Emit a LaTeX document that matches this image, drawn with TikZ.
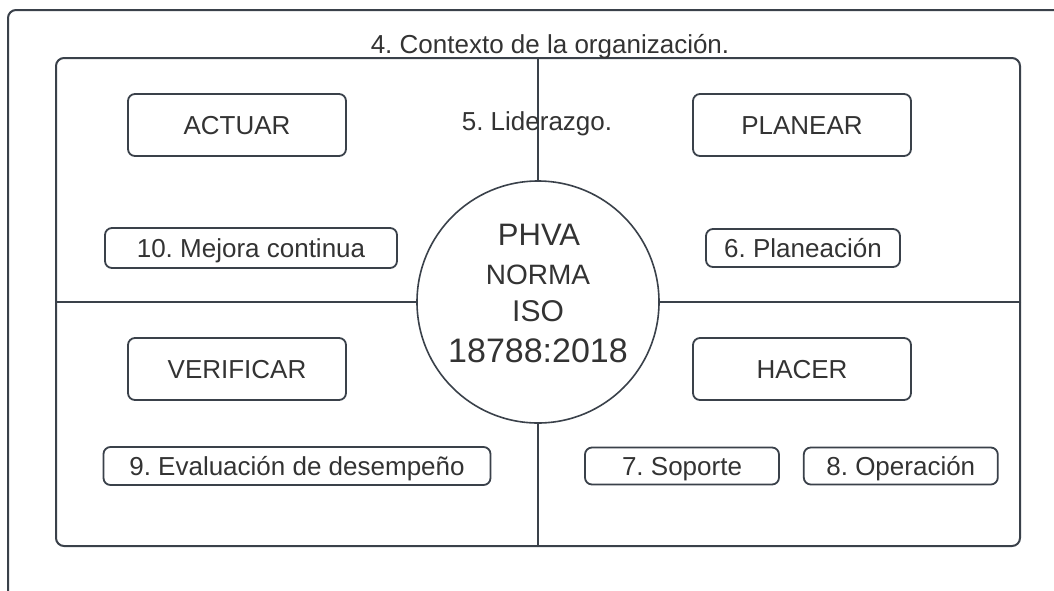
\documentclass[tikz,border=0pt]{standalone}
\usepackage{fontspec}
\setmainfont{Liberation Sans}
\usetikzlibrary{positioning}
\definecolor{linea}{RGB}{58,65,74}
\definecolor{texto}{RGB}{51,51,51}
\frenchspacing
\tikzset{
x=1pt, y=-1pt, % one unit is one pixel of the page, y runs downwards
every node/.style={text=texto, inner sep=0pt},
caja/.style={draw=linea, line width=1.8pt, rounded corners=7pt,
  text height=18.6pt, text depth=0pt, font=\fontsize{26}{31}\selectfont}, % the small boxes
etiqueta/.style={anchor=base, font=\fontsize{26}{31}\selectfont}, % free texts
}
\def\marcoexterior{(8,640) -- (8,10) -- (1100,10)}
\def\lienzo{(0,0) rectangle (1054,590)}

\begin{document}
\begin{tikzpicture}
    \clip \lienzo;
    \fill[white] \lienzo;

    % frames
    \draw[linea, line width=2pt, rounded corners=8pt] \marcoexterior;
    \node (marco) [draw=linea, line width=2pt, rounded corners=8pt,
        minimum width=964pt, minimum height=488pt] at (538,302) {};
    \node (phva) [circle, draw=linea, line width=1.6pt, minimum size=242pt] at (538,302) {};

    % quadrant lines
    \draw[linea, line width=1.6pt] (marco.north) -- (phva.north);
    \draw[linea, line width=1.6pt] (marco.south) -- (phva.south);
    \draw[linea, line width=1.6pt] (marco.west) -- (phva.west);
    \draw[linea, line width=1.6pt] (marco.east) -- (phva.east);

    % texts
    \node (contexto) [etiqueta] at (550,53) {4. Contexto de la organización.};
    \node (liderazgo) [etiqueta] at (537,130) {5. Liderazgo.};
    \node (phva1) [anchor=base, font=\fontsize{31}{36}\selectfont] at (539,245) {PHVA};
    \node (phva2) [anchor=base, font=\fontsize{28}{33}\selectfont] at (538,284) {NORMA};
    \node (phva3) [anchor=base, font=\fontsize{30}{35}\selectfont] at (538,321) {ISO};
    \node (phva4) [anchor=base, font=\fontsize{34}{40}\selectfont] at (538,362) {18788:2018};

    % cycle boxes
    \node (actuar) [caja, minimum width=218pt, minimum height=62pt] at (237,125) {ACTUAR};
    \node (planear) [caja, minimum width=218pt, minimum height=62pt] at (802,125) {PLANEAR};
    \node (verificar) [caja, minimum width=218pt, minimum height=62pt] at (237,369) {VERIFICAR};
    \node (hacer) [caja, minimum width=218pt, minimum height=62pt] at (802,369) {HACER};

    % clause boxes
    \node (mejora) [caja, minimum width=292pt, minimum height=40pt] at (251,248) {10. Mejora continua};
    \node (planeacion) [caja, minimum width=194pt, minimum height=38pt] at (803,248) {6. Planeación};
    \node (evaluacion) [caja, minimum width=387pt, minimum height=38pt] at (297,466) {9. Evaluación de desempeño};
    \node (soporte) [caja, minimum width=194pt, minimum height=37pt] at (682,466) {7. Soporte};
    \node (operacion) [caja, minimum width=194pt, minimum height=37pt, right=23pt of soporte] {8. Operación};

\end{tikzpicture}
\end{document}
